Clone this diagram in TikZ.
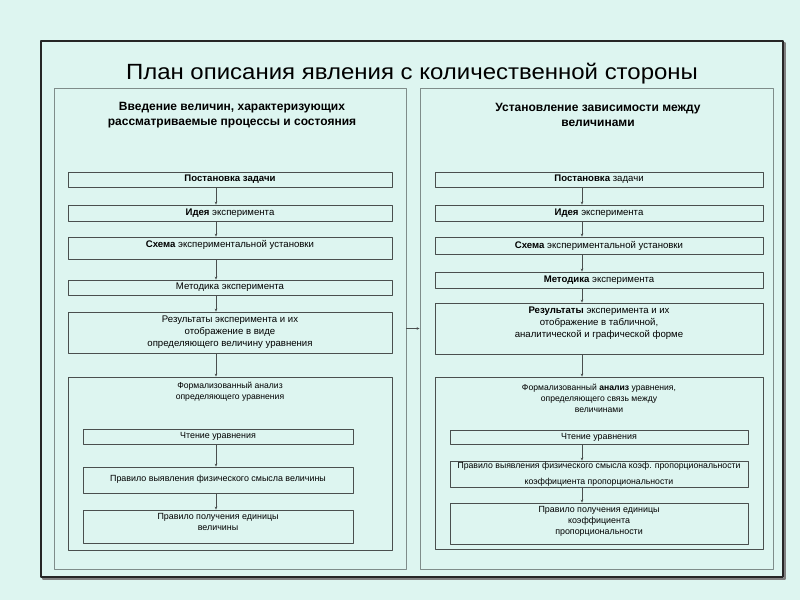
\documentclass[tikz,border=0pt]{standalone}
\usepackage{fontspec}
\setmainfont{Liberation Sans}
\usetikzlibrary{arrows.meta}
\definecolor{mintbg}{HTML}{DDF5F0}
\definecolor{framegray}{HTML}{7F8C8A}
\definecolor{boxgray}{HTML}{4A4F4E}
% пустая строка-подпорка снизу, чтобы поднять текст в рамке
\newcommand{\lowgap}[1]{\rule[-#1]{0pt}{#1}}
\begin{document}
\begin{tikzpicture}[x=1pt, y=-1pt, line join=round, >={Stealth[length=3pt, width=2.6pt]},
  panel/.style={draw=framegray, line width=0.9pt, inner sep=0pt},
  stepbox/.style={draw=boxgray, line width=0.8pt, inner sep=0pt, align=center, font=\fontsize{9.6}{12}\selectfont},
  rulebox/.style={stepbox, font=\fontsize{8.9}{11}\selectfont},
  heading/.style={align=center, font=\fontsize{12}{15.5}\selectfont\bfseries},
  caption/.style={align=center, font=\fontsize{8.6}{11}\selectfont},
  arr/.style={->, boxgray, line width=0.6pt}]
	% Фон и внешняя рамка
	\fill[mintbg] (0,0) rectangle (800,600);
	\useasboundingbox (0,0) rectangle (800,600);
	\draw[gray, line width=1.6pt] (43,43) rectangle (785,579);
	\draw[black!85, line width=1.8pt, fill=mintbg] (41,41) rectangle (783,577);
	% Заголовок
	\node (title) at (412,74) {\fontsize{22}{26}\selectfont\scalebox{1.09}[1]{План описания явления с количественной стороны}};
	% Две панели
	\node[panel, minimum width=352, minimum height=481] (lpanel) at (230,328.5) {};
	\node[panel, minimum width=353, minimum height=481] (rpanel) at (596.5,328.5) {};
	\node[heading] (lhead) at (232,115) {Введение величин, характеризующих\\рассматриваемые процессы и состояния};
	\node[heading] (rhead) at (598,115) {Установление зависимости между\\величинами};
	% Левая колонка
	\coordinate (lx) at (216,0);
	\node[stepbox, minimum width=324, minimum height=15] (lb1) at (230,179.5) {\textbf{Постановка задачи}};
	\node[stepbox, minimum width=324, minimum height=16] (lb2) at (230,213) {\textbf{Идея} эксперимента};
	\node[stepbox, minimum width=324, minimum height=22] (lb3) at (230,248) {\textbf{Схема} экспериментальной установки\lowgap{8pt}};
	\node[stepbox, minimum width=324, minimum height=15] (lb4) at (230,287.5) {Методика эксперимента};
	\node[stepbox, minimum width=324, minimum height=41] (lb5) at (230,332.5) {Результаты эксперимента и их\\отображение в виде\\определяющего величину уравнения};
	\node[panel, draw=boxgray, minimum width=324, minimum height=173] (lbig) at (230,463.5) {};
	\node[caption] (ltitle) at (230,391.5) {Формализованный анализ\\определяющего уравнения};
	\node[rulebox, minimum width=270, minimum height=15] (li1) at (218,436.5) {Чтение уравнения};
	\node[rulebox, minimum width=270, minimum height=26] (li2) at (218,480) {Правило выявления физического смысла величины\lowgap{4pt}};
	\node[rulebox, minimum width=270, minimum height=33] (li3) at (218,526.5) {Правило получения единицы\\величины\lowgap{10pt}};
	% Правая колонка
	\coordinate (rx) at (582,0);
	\node[stepbox, minimum width=328, minimum height=15] (rb1) at (599,179.5) {\textbf{Постановка} задачи};
	\node[stepbox, minimum width=328, minimum height=16] (rb2) at (599,213) {\textbf{Идея} эксперимента};
	\node[stepbox, minimum width=328, minimum height=17] (rb3) at (599,245.5) {\textbf{Схема} экспериментальной установки};
	\node[stepbox, minimum width=328, minimum height=16] (rb4) at (599,280) {\textbf{Методика} эксперимента};
	\node[stepbox, minimum width=328, minimum height=51] (rb5) at (599,328.5) {\textbf{Результаты} эксперимента и их\\отображение в табличной,\\аналитической и графической форме\lowgap{12pt}};
	\node[panel, draw=boxgray, minimum width=328, minimum height=172] (rbig) at (599,463) {};
	\node[caption] (rtitle) at (599,398) {Формализованный \textbf{анализ} уравнения,\\определяющего связь между\\величинами};
	\node[rulebox, minimum width=298, minimum height=14] (ri1) at (599,437) {Чтение уравнения};
	\node[rulebox, minimum width=298, minimum height=26, font=\fontsize{8.7}{16}\selectfont] (ri2) at (599,474) {Правило выявления физического смысла коэф. пропорциональности\\коэффициента пропорциональности};
	\node[rulebox, minimum width=298, minimum height=41] (ri3) at (599,523.5) {Правило получения единицы\\коэффициента\\пропорциональности\lowgap{7pt}};
	% Стрелки
	\foreach \a/\b in {lb1/lb2, lb2/lb3, lb3/lb4, lb4/lb5, lb5/lbig, li1/li2, li2/li3}
		\draw[arr] (\a.south -| lx) -- (\b.north -| lx);
	\foreach \a/\b in {rb1/rb2, rb2/rb3, rb3/rb4, rb4/rb5, rb5/rbig, ri1/ri2, ri2/ri3}
		\draw[arr] (\a.south -| rx) -- (\b.north -| rx);
	\draw[arr] (lpanel.east) -- (rpanel.west);
\end{tikzpicture}
\end{document}
